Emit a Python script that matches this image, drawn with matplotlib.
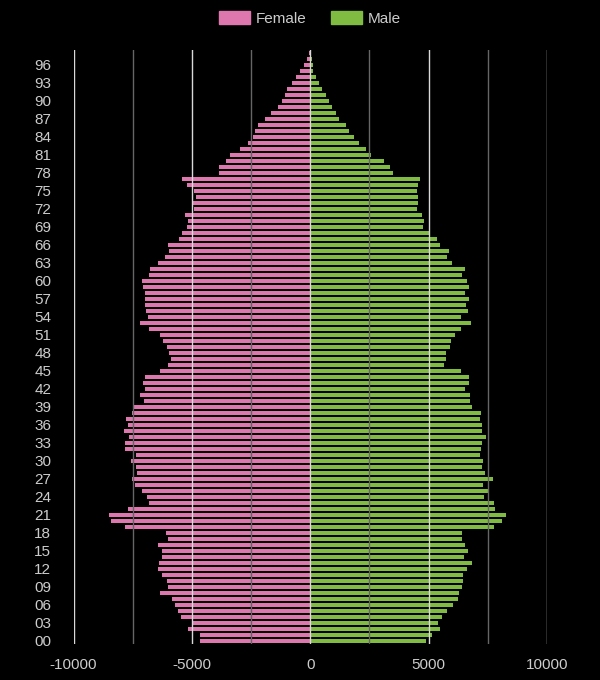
import numpy as np
import matplotlib
matplotlib.use('Agg')
import matplotlib.pyplot as plt
from matplotlib.patches import Patch

plt.rcParams['font.family'] = ['Liberation Sans', 'DejaVu Sans']
plt.rcParams['axes.unicode_minus'] = False

# population by single year of age, 0..98
ages = list(range(0, 99))
female = [4654, 4654, 5160, 4991, 5455, 5582, 5708, 5835, 6341, 6004,
          6046, 6257, 6425, 6383, 6257, 6257, 6425, 6004, 6088, 7817,
          8408, 8492, 7691, 6805, 6889, 7100, 7396, 7522, 7311, 7353,
          7564, 7353, 7817, 7817, 7649, 7860, 7691, 7775, 7522, 7438,
          7016, 7185, 6974, 7058, 6974, 6341, 6004, 5877, 5961, 6046,
          6215, 6341, 6805, 7185, 6847, 6932, 6974, 6974, 6974, 7058,
          7100, 6805, 6763, 6425, 6130, 5961, 6004, 5540, 5413, 5202,
          5160, 5287, 4907, 4949, 4823, 4907, 5202, 5413, 3852, 3852,
          3557, 3388, 2967, 2629, 2418, 2334, 2207, 1912, 1659, 1364,
          1195, 1069, 984, 773, 605, 436, 267, 141, 40]
male = [4879, 5132, 5469, 5385, 5554, 5765, 6018, 6229, 6271, 6397,
        6439, 6439, 6608, 6819, 6482, 6650, 6524, 6397, 6397, 7747,
        8084, 8253, 7789, 7747, 7325, 7494, 7283, 7705, 7367, 7241,
        7283, 7157, 7199, 7241, 7410, 7241, 7241, 7157, 7199, 6819,
        6735, 6735, 6524, 6693, 6693, 6355, 5638, 5722, 5722, 5891,
        5933, 6102, 6355, 6777, 6355, 6650, 6566, 6693, 6524, 6693,
        6608, 6397, 6524, 5976, 5765, 5849, 5469, 5343, 5019, 4752,
        4794, 4710, 4499, 4541, 4541, 4499, 4541, 4626, 3487, 3360,
        3107, 2559, 2348, 2053, 1842, 1631, 1504, 1209, 1083, 914,
        787, 661, 492, 366, 239, 112, 98, 70, 10]

age_ticks = list(range(0, 97, 3))
x_ticks = [-10000, -5000, 0, 5000, 10000]

pink = '#de77ae'
green = '#7fbc41'
txt = '#cccccc'

fig = plt.figure(figsize=(6, 6.8), dpi=100, facecolor='black')
ax = fig.add_axes([0.1225, 0.0525, 0.789, 0.874], facecolor='black')

ax.barh(ages, -np.array(female), height=0.8, color=pink, zorder=1)
ax.barh(ages, male, height=0.8, color=green, zorder=1)

ax.set_xlim(-10000, 10000)
ax.set_ylim(-0.55, 98.5)

# grid on top of the bars
for v in range(-10000, 10001, 2500):
    major = v % 5000 == 0
    ax.axvline(v, color='#d9d9d9' if major else '#666666', lw=1, zorder=3)

ax.set_xticks(x_ticks)
ax.set_xticklabels([str(v) for v in x_ticks])
ax.set_yticks(age_ticks)
ax.set_yticklabels([f'{a:02d}' for a in age_ticks])
ax.tick_params(axis='both', length=0, colors=txt, labelsize=11)
ax.tick_params(axis='y', pad=16)
ax.tick_params(axis='x', pad=10)
for s in ax.spines.values():
    s.set_visible(False)

handles = [Patch(color=pink, label='Female'), Patch(color=green, label='Male')]
fig.legend(handles=handles, loc='center', bbox_to_anchor=(0.517, 0.973), ncol=2,
           frameon=False, fontsize=11, labelcolor=txt, handlelength=2.0,
           handleheight=1.0, handletextpad=0.4, columnspacing=1.6)

fig.savefig('out.png', dpi=100, facecolor='black')
